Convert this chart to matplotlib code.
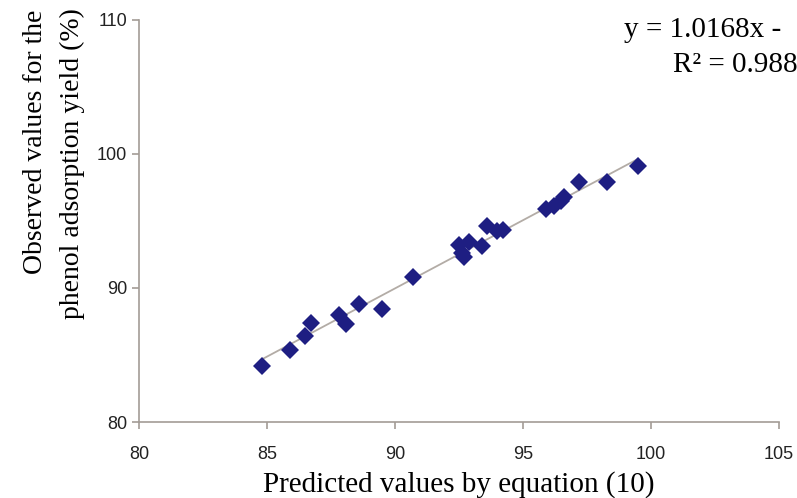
import matplotlib.pyplot as plt
import numpy as np

# predicted (equation 10) vs observed phenol adsorption yield, %
predicted = [84.8, 85.9, 86.5, 86.7, 87.8, 88.1, 88.6, 89.5, 90.7, 92.5, 92.6, 92.7,
             92.9, 93.4, 93.6, 94.0, 94.2, 95.9, 96.2, 96.5, 96.6, 97.2, 98.3, 99.5]
observed = [84.2, 85.4, 86.4, 87.4, 88.0, 87.3, 88.8, 88.4, 90.8, 93.2, 92.6, 92.3,
            93.4, 93.1, 94.6, 94.2, 94.3, 95.9, 96.1, 96.5, 96.8, 97.9, 97.9, 99.1]

slope = 1.0168
r_squared = '0.988'
x_ticks = [80, 85, 90, 95, 100, 105]
y_ticks = [80, 90, 100, 110]

x = np.array(predicted)
y = np.array(observed)
intercept = y.mean() - slope * x.mean()

axis_col = '#a39c96'
point_col = '#1e1e82'
serif = 'Liberation Serif'

fig = plt.figure(figsize=(7.97, 4.98), dpi=100)
ax = fig.add_axes([0.1744, 0.1526, 0.8030, 0.8082])

# trend line over the data range
xl = np.array([x.min(), x.max()])
ax.plot(xl, slope * xl + intercept, color='#b3aca6', lw=1.3, zorder=1)
ax.plot(x, y, 'D', color=point_col, markersize=9, markeredgewidth=0, zorder=2)

ax.set_xlim(80, 105)
ax.set_ylim(80, 110)
ax.set_xticks(x_ticks)
ax.set_yticks(y_ticks)
for s in ['top', 'right']:
    ax.spines[s].set_visible(False)
for s in ['left', 'bottom']:
    ax.spines[s].set_color(axis_col)
    ax.spines[s].set_linewidth(1.2)
ax.tick_params(colors=axis_col, length=5, width=1.2, labelcolor='#222222',
               labelsize=13)
for lab in ax.get_xticklabels() + ax.get_yticklabels():
    lab.set_family('Liberation Sans')
ax.tick_params(axis='x', pad=12)

ax.set_xlabel('Predicted values by equation (10)', family=serif,
              fontsize=21, labelpad=6)

# y title, two lines
fig.text(36 / 797, 1 - 142 / 498, 'Observed values for the', family=serif,
         fontsize=20, rotation=90, ha='center', va='center')
fig.text(72 / 797, 1 - 164 / 498, 'phenol adsorption yield (%)', family=serif,
         fontsize=20, rotation=90, ha='center', va='center')

# regression label
fig.text(624 / 797, 1 - 30 / 498, 'y = %.4fx -' % slope,
         family=serif, fontsize=21, va='center', ha='left')
fig.text(673 / 797, 1 - 65 / 498, 'R\u00b2 = ' + r_squared,
         family=serif, fontsize=21, va='center', ha='left')

fig.savefig('out.png', dpi=100)
